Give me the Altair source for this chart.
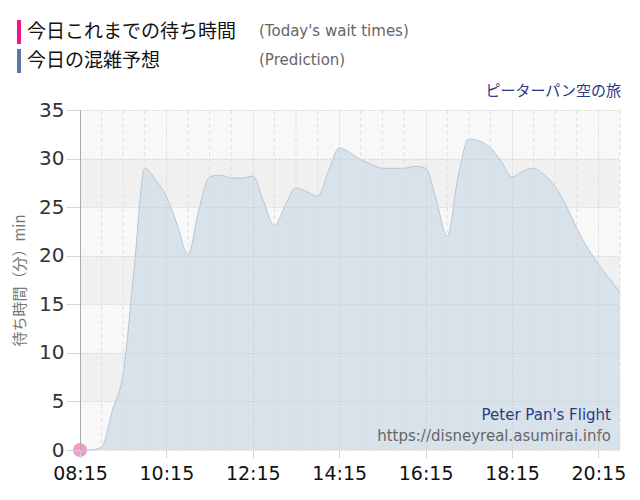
import altair as alt
import pandas as pd

# ---- data ----
time_labels = ["08:15","08:30","08:45","09:00","09:15","09:30","09:45","10:00","10:15","10:30",
               "10:45","11:00","11:15","11:30","11:45","12:00","12:15","12:30","12:45","13:00",
               "13:15","13:30","13:45","14:00","14:15","14:30","14:45","15:00","15:15","15:30",
               "15:45","16:00","16:15","16:30","16:45","17:00","17:15","17:30","17:45","18:00",
               "18:15","18:30","18:45","19:00","19:15","19:30","19:45","20:00","20:15","20:30",
               "20:45"]
prediction = [0, 0, 0.3, 4.1, 7.9, 18.5, 29.0, 27.8, 26.1, 23.2,
              20.1, 24.7, 28.1, 28.3, 28.0, 28.0, 28.2, 25.6, 23.1, 25.2,
              27.0, 26.6, 26.1, 28.7, 31.1, 30.6, 29.9, 29.4, 29.0, 29.0,
              29.0, 29.2, 29.0, 25.7, 22.0, 28.1, 32.0, 31.8, 31.1, 29.7,
              28.1, 28.7, 29.0, 28.3, 27.1, 25.2, 22.8, 20.8, 19.1, 17.7,
              16.2]
actual_times = ["08:15"]
actual_values = [0]

x_tick_labels = ["08:15", "10:15", "12:15", "14:15", "16:15", "18:15", "20:15"]
minor_grid_labels = ["08:45", "09:15", "09:45", "10:45", "11:15", "11:45", "12:45", "13:15",
                     "13:45", "14:45", "15:15", "15:45", "16:45", "17:15", "17:45", "18:45",
                     "19:15", "19:45", "20:45"]
y_ticks = [0, 5, 10, 15, 20, 25, 30, 35]
band_lo = [5, 15, 25]
band_hi = [10, 20, 30]


def to_min(s):
    h, m = s.split(":")
    return int(h) * 60 + int(m)


pred_df = pd.DataFrame({"t": [to_min(s) for s in time_labels], "v": prediction})
act_df = pd.DataFrame({"t": [to_min(s) for s in actual_times], "v": actual_values})
minor_df = pd.DataFrame({"t": [to_min(s) for s in minor_grid_labels]})
band_df = pd.DataFrame({"lo": band_lo, "hi": band_hi})
one = pd.DataFrame({"a": [0]})

x_domain = [to_min("08:15"), to_min("20:45")]
label_expr = ("(floor(datum.value/60) < 10 ? '0' : '') + floor(datum.value/60) + ':' + "
              "(datum.value % 60 < 10 ? '0' : '') + (datum.value % 60)")

x_scale = alt.Scale(domain=x_domain, nice=False, zero=False)
y_scale = alt.Scale(domain=[0, 35], nice=False)

JP = "Noto Sans CJK JP"
LAT = "DejaVu Sans"

bands = alt.Chart(band_df).mark_rect(color="#f0f0f0").encode(
    y=alt.Y("lo:Q", scale=y_scale),
    y2="hi:Q",
    x=alt.value(0),
    x2=alt.value(540),
)

area = alt.Chart(pred_df).mark_area(
    interpolate="monotone", color="#d8e2eb", opacity=1,
    line=alt.LineConfig(color="#b7c6d4", strokeWidth=1),
).encode(
    x=alt.X("t:Q", scale=x_scale,
            axis=alt.Axis(values=[to_min(s) for s in x_tick_labels], labelExpr=label_expr,
                          title=None, labelFont=LAT, labelFontSize=19, labelColor="#111",
                          labelFlush=False, labelOverlap=False,
                          tickColor="#d5d5d5", tickSize=8, labelPadding=6, domain=False,
                          grid=True, gridColor="#c9c9c9", gridDash=[1, 2], zindex=1)),
    y=alt.Y("v:Q", scale=y_scale,
            axis=alt.Axis(values=y_ticks, title="待ち時間（分）min", titleFont=JP,
                          titleFontSize=15, titleFontWeight="normal", titleColor="#777",
                          titlePadding=11,
                          labelFont=LAT, labelFontSize=20, labelColor="#333",
                          labelFlush=False, labelOverlap=False,
                          tickColor="#d5d5d5", tickSize=14, labelPadding=2,
                          domainColor="#aaaaaa", grid=True, gridColor="#c9c9c9",
                          gridDash=[1, 2], zindex=1)),
)

minor = alt.Chart(minor_df).mark_rule(color="#dedede", strokeDash=[4, 3], strokeWidth=1).encode(
    x=alt.X("t:Q", scale=x_scale),
    y=alt.value(0),
    y2=alt.value(340),
)

point = alt.Chart(act_df).mark_circle(color="#f29bcb", opacity=1, size=200).encode(
    x=alt.X("t:Q", scale=x_scale),
    y=alt.Y("v:Q", scale=y_scale),
)

def txt(text, x, y, size, color, font, align="left"):
    return alt.Chart(one).mark_text(text=text, fontSize=size, color=color, font=font,
                                    align=align, baseline="middle").encode(
        x=alt.value(x), y=alt.value(y))

def bar(y1, y2, color):
    return alt.Chart(one).mark_rect(color=color).encode(
        x=alt.value(-63), x2=alt.value(-59), y=alt.value(y1), y2=alt.value(y2))

deco = [
    bar(-90, -66, "#f0168c"),
    bar(-61, -37, "#5c75a5"),
    txt("今日これまでの待ち時間", -53, -78, 19, "#111", JP),
    txt("(Today's wait times)", 179, -79, 15, "#666", LAT),
    txt("今日の混雑予想", -53, -49, 19, "#111", JP),
    txt("(Prediction)", 179, -50, 15, "#666", LAT),
    txt("ピーターパン空の旅", 541, -19, 15, "#2b3a80", JP, "right"),
    txt("Peter Pan's Flight", 531, 305, 15, "#2b3a80", LAT, "right"),
    txt("https://disneyreal.asumirai.info", 531, 326, 15, "#666", LAT, "right"),
]

chart = alt.layer(bands, area, minor, point, *deco).properties(
    width=540, height=340,
    autosize=alt.AutoSizeParams(type="none"),
    padding={"left": 72, "top": 102, "right": 10, "bottom": 40},
    background="white",
).configure_view(stroke=None, fill="#f8f8f8")

chart.save("out.html", embed_options={"renderer": "svg", "actions": False})
